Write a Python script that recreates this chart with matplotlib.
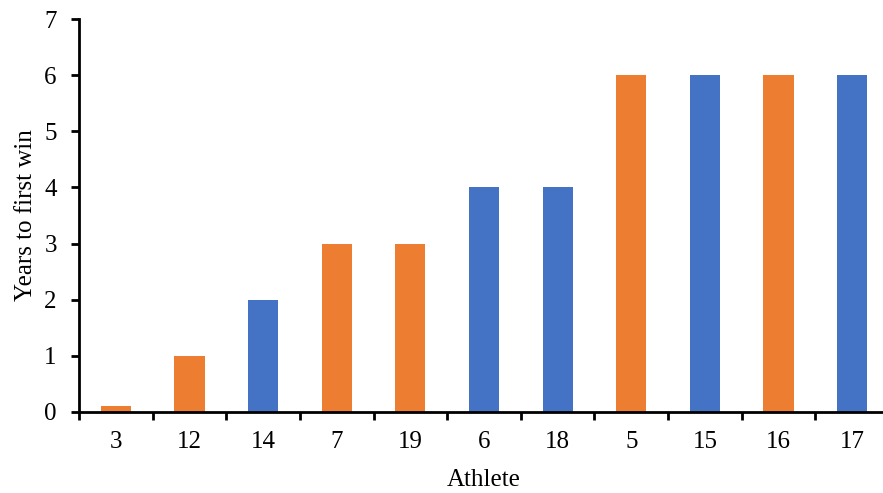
import matplotlib.pyplot as plt
from matplotlib.ticker import FixedLocator

athletes = ['3', '12', '14', '7', '19', '6', '18', '5', '15', '16', '17']
years = [0.1, 1, 2, 3, 3, 4, 4, 6, 6, 6, 6]
groups = ['o', 'o', 'b', 'o', 'o', 'b', 'b', 'o', 'b', 'o', 'b']

colors = {'o': '#ED7D31', 'b': '#4472C4'}

plt.rcParams['font.family'] = ['Liberation Serif', 'DejaVu Serif']

fig = plt.figure(figsize=(8.83, 4.93), dpi=100)
ax = fig.add_axes([79 / 883, 81 / 493, 810 / 883, 393 / 493])

x = list(range(len(athletes)))
ax.bar(x, years, width=0.41, color=[colors[g] for g in groups])

ax.set_xlim(-0.5, len(athletes) - 0.5)
ax.set_ylim(0, 7)
ax.set_yticks(range(0, 8))
ax.set_xticks(x)
ax.set_xticklabels(athletes)
# ticks between the categories, like the original
ax.xaxis.set_minor_locator(FixedLocator([i - 0.5 for i in range(len(athletes) + 1)]))

ax.tick_params(axis='x', which='major', length=0, pad=14, labelsize=18)
ax.tick_params(axis='x', which='minor', length=6, width=2, direction='out')
ax.tick_params(axis='y', length=6, width=2, direction='out', labelsize=18, pad=10)

for s in ['top', 'right']:
    ax.spines[s].set_visible(False)
for s in ['left', 'bottom']:
    ax.spines[s].set_linewidth(2)

ax.set_xlabel('Athlete', fontsize=18, labelpad=11)
ax.set_ylabel('Years to first win', fontsize=18, labelpad=5)

fig.savefig('out.png', dpi=100)
